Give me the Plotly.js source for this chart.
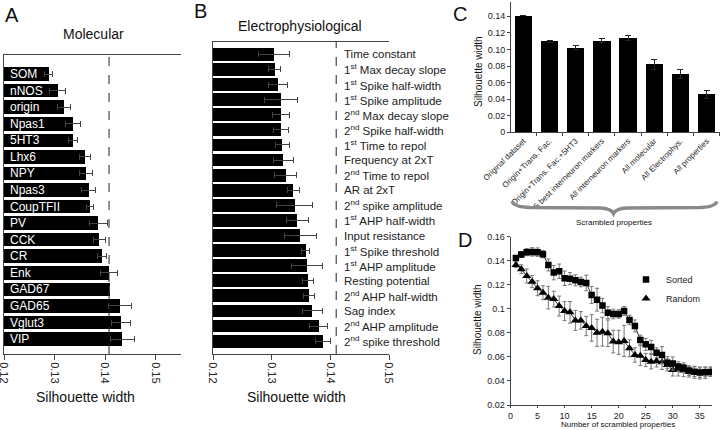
<!DOCTYPE html>
<html>
<head>
<meta charset="utf-8">
<script src="https://cdn.plot.ly/plotly-3.0.1.min.js"></script>
<style>html,body{margin:0;padding:0;background:#fff;}#chart{width:720px;height:430px;}</style>
</head>
<body>
<div id="chart"></div>
<script>
// ---------- Panel A: Molecular ----------
const molLabels = ['SOM','nNOS','origin','Npas1','5HT3','Lhx6','NPY','Npas3','CoupTFII','PV','CCK','CR','Enk','GAD67','GAD65','Vglut3','VIP'];
const molValues = [0.1289,0.1306,0.1319,0.1336,0.1337,0.1360,0.1362,0.1368,0.1370,0.1387,0.1389,0.1394,0.1408,0.1409,0.1430,0.1431,0.1434];
const molErrors = [0.0008,0.0015,0.0013,0.0015,0.0009,0.0011,0.0013,0.0014,0.0007,0.0017,0.0011,0.0008,0.0016,0,0.0023,0.0019,0.0024];
const molCutoff = 0.1408;

// ---------- Panel B: Electrophysiological ----------
const ephysLabels = ['Time constant','1<sup>st</sup> Max decay slope','1<sup>st</sup> Spike half-width','1<sup>st</sup> Spike amplitude',
  '2<sup>nd</sup> Max decay slope','2<sup>nd</sup> Spike half-width','1<sup>st</sup> Time to repol','Frequency at 2xT',
  '2<sup>nd</sup> Time to repol','AR at 2xT','2<sup>nd</sup> spike amplitude','1<sup>st</sup> AHP half-width',
  'Input resistance','1<sup>st</sup> Spike threshold','1<sup>st</sup> AHP amplitude','Resting potential',
  '2<sup>nd</sup> AHP half-width','Sag index','2<sup>nd</sup> AHP amplitude','2<sup>nd</sup> spike threshold'];
const ephysValues = [0.1304,0.1305,0.1311,0.1316,0.1316,0.1316,0.1318,0.1320,0.1324,0.1337,0.1339,0.1344,0.1349,0.1358,0.1360,0.1362,0.1364,0.1369,0.1380,0.1387];
const ephysErrors = [0.0026,0.0010,0.0016,0.0028,0.0014,0.0013,0.0012,0.0017,0.0019,0.0010,0.0030,0.0019,0.0027,0.0007,0.0026,0.0009,0.0009,0.0017,0.0016,0.0013];
const ephysCutoff = 0.1410;

// ---------- Panel C: scrambled property sets ----------
const setLabels = ['Original dataset','Origin+Trans. Fac.','Origin+Trans. Fac.+5HT3','5 best interneuron markers','All interneuron markers','All molecular','All Electrophys.','All properties'];
const setValues = [0.1407,0.1098,0.1021,0.1106,0.1142,0.0824,0.0700,0.0462];
const setErrors = [0,0.0010,0.0024,0.0024,0.0032,0.0060,0.0056,0.0048];
const cTickVals = [0,0.02,0.04,0.06,0.08,0.10,0.12,0.14];
const cTickText = ['0','0.02','0.04','0.06','0.08','0.10','0.12','0.14'];

// ---------- Panel D: number of scrambled properties ----------
const scrambledCount = [1,2,3,4,5,6,7,8,9,10,11,12,13,14,15,16,17,18,19,20,21,22,23,24,25,26,27,28,29,30,31,32,33,34,35,36,37];
const sortedMean = [0.1422,0.1450,0.1470,0.1472,0.1470,0.1453,0.1364,0.1300,0.1311,0.1253,0.1250,0.1236,0.1222,0.1214,0.1114,0.1075,0.1026,0.0967,0.0956,0.0956,0.0981,0.0906,0.0857,0.0740,0.0704,0.0682,0.0635,0.0615,0.0552,0.0544,0.0519,0.0510,0.0486,0.0477,0.0469,0.0472,0.0475];
const sortedErr = [0.0020,0.0025,0.0030,0.0035,0.0035,0.0030,0.0050,0.0060,0.0060,0.0060,0.0050,0.0045,0.0040,0.0065,0.0070,0.0095,0.0060,0.0050,0.0040,0.0035,0.0037,0.0040,0.0050,0.0040,0.0050,0.0055,0.0040,0.0070,0.0050,0.0055,0.0040,0.0040,0.0040,0.0040,0.0040,0.0037,0.0035];
const randomMean = [0.1364,0.1328,0.1272,0.1225,0.1170,0.1133,0.1092,0.1080,0.1022,0.0980,0.0970,0.0903,0.0903,0.0856,0.0840,0.0800,0.0809,0.0796,0.0727,0.0721,0.0732,0.0671,0.0616,0.0610,0.0574,0.0560,0.0566,0.0555,0.0533,0.0491,0.0491,0.0486,0.0477,0.0472,0.0466,0.0469,0.0477];
const randomErr = [0.0023,0.0037,0.0058,0.0050,0.0062,0.0058,0.0094,0.0065,0.0083,0.0079,0.0090,0.0083,0.0073,0.0080,0.0110,0.0113,0.0120,0.0110,0.0094,0.0100,0.0130,0.0070,0.0060,0.0083,0.0055,0.0060,0.0050,0.0060,0.0050,0.0050,0.0050,0.0050,0.0045,0.0050,0.0050,0.0048,0.0040];
const dTickVals = [0.02,0.04,0.06,0.08,0.10,0.12,0.14,0.16];
const dTickText = ['0.02','0.04','0.06','0.08','0.1','0.12','0.14','0.16'];
const dXTickVals = [0,5,10,15,20,25,30,35];
const hTickVals = [0.12,0.13,0.14,0.15];
const hTickText = ['0.12','0.13','0.14','0.15'];

// ---------- helpers (pixel -> paper) ----------
const W = 720, H = 430;
const px = v => v / W;
const py = v => 1 - v / H;
const FONT = 'Arial, "Liberation Sans", sans-serif';

const traces = [
  {type:'bar', orientation:'h', x: molValues, y: molLabels, xaxis:'x', yaxis:'y', width:0.82,
   marker:{color:'#000', line:{width:0}},
   error_x:{type:'data', array: molErrors, visible:true, color:'#444', thickness:1, width:3},
   showlegend:false, hoverinfo:'x+y'},
  {type:'bar', orientation:'h', x: ephysValues, y: ephysLabels, xaxis:'x2', yaxis:'y2', width:0.85,
   marker:{color:'#000', line:{width:0}},
   error_x:{type:'data', array: ephysErrors, visible:true, color:'#444', thickness:1, width:3},
   showlegend:false, hoverinfo:'x+y'},
  {type:'bar', x: setLabels, y: setValues, xaxis:'x3', yaxis:'y3', width:0.66,
   marker:{color:'#000', line:{width:0}},
   error_y:{type:'data', array: setErrors, visible:true, color:'#222', thickness:1, width:3},
   showlegend:false},
  {type:'scatter', mode:'lines+markers', x: scrambledCount, y: randomMean, xaxis:'x4', yaxis:'y4', name:'Random',
   line:{color:'#333', width:1}, marker:{symbol:'triangle-up', size:8, color:'#000'},
   error_y:{type:'data', array: randomErr, visible:true, color:'#777', thickness:1, width:2},
   showlegend:false},
  {type:'scatter', mode:'lines+markers', x: scrambledCount, y: sortedMean, xaxis:'x4', yaxis:'y4', name:'Sorted',
   line:{color:'#333', width:1}, marker:{symbol:'square', size:6.5, color:'#000'},
   error_y:{type:'data', array: sortedErr, visible:true, color:'#777', thickness:1, width:2},
   showlegend:false},
  {type:'scatter', mode:'markers', x:[null], y:[null], xaxis:'x4', yaxis:'y4', name:'Sorted',
   marker:{symbol:'square', size:6.5, color:'#000'}, showlegend:true},
  {type:'scatter', mode:'markers', x:[null], y:[null], xaxis:'x4', yaxis:'y4', name:'Random',
   marker:{symbol:'triangle-up', size:8, color:'#000'}, showlegend:true}
];

const axLine = '#444';
const hAxisCommon = {
  tickvals: hTickVals, ticktext: hTickText, tickangle: 90, ticks:'outside', ticklen:5, tickcolor: axLine,
  showline:true, linecolor: axLine, linewidth:1, mirror:true, showgrid:false, zeroline:false,
  ticklabeloverflow:'allow',
  tickfont:{size:11, color:'#222', family:FONT}
};

const layout = {
  width: W, height: H, margin:{l:0,r:0,t:0,b:0},
  paper_bgcolor:'#fff', plot_bgcolor:'rgba(0,0,0,0)',
  font:{family:FONT, color:'#111'},
  bargap:0,
  xaxis: Object.assign({domain:[px(4), px(181)], anchor:'y', range:[0.12, 0.15505]}, hAxisCommon),
  yaxis: {domain:[py(354), py(55)], anchor:'x', type:'category', range:[16.9, -1.15],
          showline:true, linecolor:axLine, linewidth:1, ticks:'', showticklabels:false, showgrid:false, zeroline:false},
  xaxis2: Object.assign({domain:[px(213), px(389)], anchor:'y2', range:[0.12, 0.15]}, hAxisCommon),
  yaxis2: {domain:[py(354), py(42)], anchor:'x2', type:'category', range:[19.85, -0.82],
          showline:true, linecolor:axLine, linewidth:1, ticks:'', showticklabels:false, showgrid:false, zeroline:false},
  xaxis3: {domain:[px(511), 1], anchor:'y3', type:'category', range:[-0.47, 7.51],
           tickangle:-45, tickfont:{size:8, color:'#222'}, ticks:'outside', ticklen:3, tickson:'boundaries', tickcolor:axLine,
           showline:true, linecolor:axLine, showgrid:false, zeroline:false},
  yaxis3: {domain:[py(132.3), py(2)], anchor:'x3', range:[0, 0.1573], tickvals:cTickVals, ticktext:cTickText,
           ticks:'outside', ticklen:3, tickcolor:axLine, tickfont:{size:9, color:'#222'},
           showline:true, linecolor:axLine, showgrid:false, zeroline:false},
  xaxis4: {domain:[px(510.5), px(712)], anchor:'y4', range:[0, 37.25], tickvals:dXTickVals,
           ticks:'outside', ticklen:2, tickcolor:axLine, tickfont:{size:9, color:'#222'},
           showline:true, linecolor:axLine, showgrid:false, zeroline:false},
  yaxis4: {domain:[py(405), py(236.5)], anchor:'x4', range:[0.02, 0.16], tickvals:dTickVals, ticktext:dTickText,
           ticks:'outside', ticklen:3, tickcolor:axLine, tickfont:{size:9, color:'#222'},
           showline:true, linecolor:axLine, showgrid:false, zeroline:false},
  showlegend:true,
  legend:{x:px(626), y:py(265), xanchor:'left', yanchor:'top', font:{size:9, color:'#222'},
          bgcolor:'rgba(0,0,0,0)', itemwidth:30, tracegroupgap:0, traceorder:'normal'},
  shapes: [
    {type:'line', xref:'x', yref:'y domain', x0:molCutoff, x1:molCutoff, y0:0, y1:1,
     line:{color:'#222', width:1, dash:'dash'}},
    {type:'line', xref:'x2', yref:'y2 domain', x0:ephysCutoff, x1:ephysCutoff, y0:0, y1:1,
     line:{color:'#222', width:1, dash:'dash'}},
    {type:'path', xref:'paper', yref:'paper',
     path: 'M '+px(512)+' '+py(201.5)+' Q '+px(514)+' '+py(207)+' '+px(530)+' '+py(207.5)+
           ' L '+px(600)+' '+py(208)+' Q '+px(611)+' '+py(208.5)+' '+px(613.5)+' '+py(213.5)+
           ' Q '+px(616)+' '+py(208.5)+' '+px(627)+' '+py(208)+
           ' L '+px(700)+' '+py(207.5)+' Q '+px(715)+' '+py(207)+' '+px(717)+' '+py(201.5),
     line:{color:'#8a8a8a', width:3.5}}
  ],
  annotations: []
};

const ann = layout.annotations;
function label(text, x, y, size, opts) {
  ann.push(Object.assign({text:text, xref:'paper', yref:'paper', x:px(x), y:py(y), showarrow:false,
    font:{size:size, color:'#111', family:FONT}, xanchor:'center', yanchor:'middle'}, opts||{}));
}
// Panel letters and titles
label('A', 3, 15, 20, {xanchor:'left'});
label('B', 192, 11, 20, {xanchor:'left'});
label('C', 451, 14, 20, {xanchor:'left'});
label('D', 456, 240, 20, {xanchor:'left'});
label('Molecular', 93, 34, 14);
label('Electrophysiological', 300, 26, 14);
label('Silhouette width', 85, 397, 14);
label('Silhouette width', 296, 397, 14);
label('Silhouette width', 479, 72, 10, {textangle:-90});
label('Silhouette width', 477, 320, 10, {textangle:-90});
label('Scrambled properties', 614, 222, 8);
label('Number of scrambled properties', 618, 424, 8);

// Bar labels inside panel A bars
molLabels.forEach(function(name){
  ann.push({text:name, xref:'x', yref:'y', x:0.12, y:name, xanchor:'left', yanchor:'middle', xshift:4,
            showarrow:false, font:{size:12, color:'#fff', family:FONT}});
});
// Labels to the right of panel B dashed line
ephysLabels.forEach(function(name){
  ann.push({text:name, xref:'paper', yref:'y2', x:px(342), y:name, xanchor:'left', yanchor:'middle',
            showarrow:false, font:{size:11.5, color:'#222', family:FONT}});
});

Plotly.newPlot('chart', traces, layout, {staticPlot:true, displayModeBar:false});
</script>
</body>
</html>
